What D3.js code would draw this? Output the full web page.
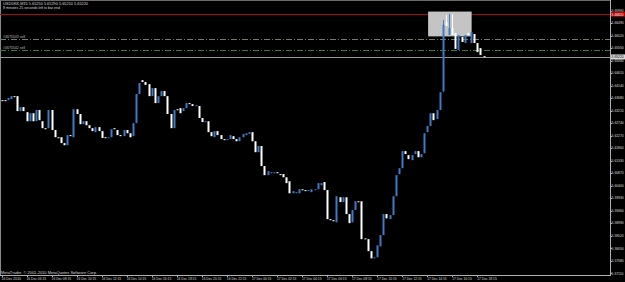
<!DOCTYPE html>
<html><head><meta charset="utf-8">
<script src="https://cdn.jsdelivr.net/npm/d3@7"></script>
<style>html,body{margin:0;padding:0;background:#000;overflow:hidden}svg{display:block}</style>
</head><body>
<svg id="c" width="625" height="282"></svg>
<script>
// ---------- data ----------
const symbolTitle = "USDDKK,M15  5.65250 5.65290 5.65210 5.65220";
const timerText = "8 minutes 25 seconds left to bar end";
const copyright = "MetaTrader, \u00A9 2001-2010 MetaQuotes Software Corp.";

const opens = [
5.6360,5.6360,5.6360,5.6364,5.6375,5.6375,5.6319,5.6334,5.6315,5.6281,
5.6311,5.6281,5.6323,5.6281,5.6255,5.6255,5.6323,5.6248,5.6221,5.6221,
5.6199,5.6191,5.6229,5.6221,5.6326,5.6308,5.6270,5.6281,5.6266,5.6255,
5.6240,5.6259,5.6244,5.6221,5.6218,5.6221,5.6255,5.6248,5.6229,5.6225,
5.6248,5.6236,5.6225,5.6274,5.6383,5.6435,5.6428,5.6420,5.6375,5.6405,
5.6349,5.6375,5.6394,5.6375,5.6308,5.6255,5.6326,5.6330,5.6319,5.6330,
5.6349,5.6345,5.6338,5.6338,5.6293,5.6278,5.6281,5.6240,5.6221,5.6244,
5.6229,5.6214,5.6210,5.6214,5.6225,5.6214,5.6206,5.6221,5.6229,5.6233,
5.6240,5.6206,5.6165,5.6188,5.6113,5.6079,5.6086,5.6086,5.6090,5.6083,
5.6083,5.6071,5.6056,5.6011,5.6011,5.6011,5.6026,5.6023,5.6019,5.6015,
5.6023,5.6026,5.6041,5.6053,5.6023,5.5914,5.5910,5.5902,5.5996,5.5978,
5.5996,5.5933,5.5902,5.5948,5.5981,5.5981,5.5842,5.5839,5.5794,5.5767,
5.5771,5.5812,5.5854,5.5933,5.5914,5.5929,5.6000,5.6083,5.6105,5.6169,
5.6154,5.6135,5.6158,5.6169,5.6146,5.6161,5.6240,5.6263,5.6311,5.6289,
5.6323,5.6394,5.6653,5.6604,5.6630,5.6612,5.6548,5.6597,5.6574,5.6612,
5.6574,5.6608,5.6574,5.6555,5.6525];

const closes = [
5.6360,5.6360,5.6368,5.6375,5.6375,5.6319,5.6334,5.6319,5.6281,5.6311,
5.6281,5.6323,5.6285,5.6255,5.6251,5.6323,5.6248,5.6221,5.6221,5.6199,
5.6191,5.6229,5.6225,5.6326,5.6308,5.6270,5.6281,5.6266,5.6255,5.6244,
5.6259,5.6244,5.6218,5.6218,5.6221,5.6251,5.6251,5.6229,5.6225,5.6248,
5.6236,5.6221,5.6274,5.6383,5.6424,5.6428,5.6417,5.6375,5.6405,5.6349,
5.6375,5.6394,5.6375,5.6308,5.6255,5.6323,5.6326,5.6311,5.6330,5.6349,
5.6345,5.6338,5.6341,5.6293,5.6278,5.6281,5.6240,5.6225,5.6244,5.6229,
5.6214,5.6210,5.6214,5.6229,5.6214,5.6206,5.6221,5.6233,5.6236,5.6240,
5.6206,5.6165,5.6188,5.6113,5.6079,5.6094,5.6090,5.6090,5.6086,5.6079,
5.6071,5.6049,5.6011,5.6019,5.6015,5.6026,5.6023,5.6019,5.6023,5.6026,
5.6026,5.6049,5.6049,5.6023,5.5914,5.5910,5.5906,5.6000,5.5978,5.5996,
5.5933,5.5899,5.5948,5.5981,5.5981,5.5839,5.5839,5.5794,5.5767,5.5771,
5.5816,5.5854,5.5933,5.5917,5.5929,5.6000,5.6079,5.6105,5.6169,5.6158,
5.6139,5.6154,5.6169,5.6146,5.6158,5.6236,5.6263,5.6311,5.6285,5.6323,
5.6390,5.6642,5.6638,5.6630,5.6604,5.6552,5.6604,5.6578,5.6604,5.6604,
5.6615,5.6574,5.6540,5.6529,5.6522];

// visible wicks (bar index, high, low)
const wickIdx  = [141, 142, 143, 144];
const wickHigh = [5.6660, 5.6679, 5.6683, 5.6683];
const wickLow  = [5.6390, 5.6638, 5.6604, 5.6604];

const timeLabels = ["16 Dec 2010","16 Dec 06:15","16 Dec 08:15","16 Dec 10:15","16 Dec 12:15",
"16 Dec 14:15","16 Dec 16:15","16 Dec 18:15","16 Dec 20:15","16 Dec 22:15","17 Dec 00:15",
"17 Dec 02:15","17 Dec 04:15","17 Dec 06:15","17 Dec 08:15","17 Dec 10:15","17 Dec 12:15",
"17 Dec 14:15","17 Dec 16:15","17 Dec 18:15"];
const barsPerLabel = 8;

const priceTicks = [5.66960,5.66490,5.66020,5.65550,5.65080,5.64610,5.64140,5.63680,5.63210,
5.62740,5.62270,5.61800,5.61330,5.60870,5.60400,5.59930,5.59460,5.58990,5.58520,5.58050,
5.57580,5.57110];

const redLevel = 5.6682;
const bidPrice = 5.6522;
const orderLevels = [5.6588, 5.6549];
const orderNames = ["#4675503 sell", "#4675542 sell"];
const boxBars = [136.3, 150.2];
const boxPrices = [5.6692, 5.6599];

// ---------- drawing ----------
const W = 625, H = 282;
const plotRight = 610, plotBottom = 275;
const svg = d3.select("#c");
svg.append("rect").attr("width", W).attr("height", H).attr("fill", "#000");

const x = d3.scaleLinear().domain([0, 154]).range([1.5, 1.5 + 154 * 3.13]);
const y = d3.scaleLinear().domain([5.57110, 5.66960]).range([273.3, 10.5]);

const font = "'Liberation Sans', Arial, sans-serif";

// frame
const g = svg.append("g");
g.append("line").attr("x1", 0.5).attr("x2", 0.5).attr("y1", 0).attr("y2", plotBottom)
  .attr("stroke", "#8a8a8a").attr("stroke-width", 1);
g.append("line").attr("x1", 0).attr("x2", plotRight).attr("y1", 0.5).attr("y2", 0.5)
  .attr("stroke", "#6a6a6a").attr("stroke-width", 1);

// red level line
g.append("line").attr("x1", 0).attr("x2", plotRight)
  .attr("y1", Math.round(y(redLevel)) + 0.5).attr("y2", Math.round(y(redLevel)) + 0.5)
  .attr("stroke", "#a01010").attr("stroke-width", 1);

// order lines
orderLevels.forEach((p, i) => {
  const yy = Math.round(y(p)) + 0.5;
  g.append("line").attr("x1", 0).attr("x2", plotRight).attr("y1", yy).attr("y2", yy)
    .attr("stroke", i === 0 ? "#6f7f6f" : "#3f7a3f").attr("stroke-width", 1)
    .attr("stroke-dasharray", "6,2,1,2");
  g.append("text").attr("x", 3).attr("y", yy - 1.2).text(orderNames[i])
    .attr("fill", "#bfbfbf").attr("font-family", font).attr("font-size", 4)
    .attr("textLength", 22).attr("lengthAdjust", "spacingAndGlyphs");
});

// bid line
g.append("line").attr("x1", 0).attr("x2", plotRight)
  .attr("y1", Math.round(y(bidPrice)) + 0.5).attr("y2", Math.round(y(bidPrice)) + 0.5)
  .attr("stroke", "#9a9a9a").attr("stroke-width", 1);

// rectangle object
g.append("rect")
  .attr("x", x(boxBars[0])).attr("width", x(boxBars[1]) - x(boxBars[0]))
  .attr("y", y(boxPrices[0])).attr("height", y(boxPrices[1]) - y(boxPrices[0]))
  .attr("fill", "#c4c4c4");

// candles
const bull = "#3f7ac4", bear = "#ffffff";
const bars = d3.range(opens.length).map(i => ({i, o: opens[i], c: closes[i]}));
const cg = svg.append("g");
wickIdx.forEach((bi, k) => {
  const up = closes[bi] >= opens[bi];
  cg.append("line").attr("x1", Math.round(x(bi)) + 0.5).attr("x2", Math.round(x(bi)) + 0.5)
    .attr("y1", y(wickHigh[k])).attr("y2", y(wickLow[k]))
    .attr("stroke", up ? bull : bear).attr("stroke-width", 1);
});
cg.selectAll("rect.c").data(bars).join("rect").attr("class", "c")
  .attr("x", d => Math.round(x(d.i)) - 0.5)
  .attr("width", 2)
  .attr("y", d => y(Math.max(d.o, d.c)))
  .attr("height", d => Math.max(1, Math.abs(y(d.o) - y(d.c))))
  .attr("fill", d => d.c > d.o ? bull : bear);

// axes lines
g.append("line").attr("x1", 0).attr("x2", plotRight).attr("y1", plotBottom + 0.5).attr("y2", plotBottom + 0.5)
  .attr("stroke", "#b0b0b0");
svg.append("line").attr("x1", plotRight + 0.5).attr("x2", plotRight + 0.5).attr("y1", 0).attr("y2", plotBottom + 1)
  .attr("stroke", "#b0b0b0");

// price axis labels
const pfs = 3.35;
const pa = svg.append("g");
priceTicks.forEach(p => {
  const yy = y(p);
  pa.append("line").attr("x1", plotRight).attr("x2", plotRight + 2).attr("y1", Math.round(yy) + 0.5).attr("y2", Math.round(yy) + 0.5)
    .attr("stroke", "#b0b0b0");
  pa.append("text").attr("x", 611.6).attr("y", yy + 1.3).text(p.toFixed(5))
    .attr("fill", "#dcdcdc").attr("font-family", font).attr("font-size", pfs);
});
// red label
const ry = y(redLevel);
pa.append("rect").attr("x", 611).attr("y", ry - 2.5).attr("width", 14).attr("height", 5).attr("fill", "#b00000");
pa.append("text").attr("x", 611.6).attr("y", ry + 1.3).text(redLevel.toFixed(5))
  .attr("fill", "#ffffff").attr("font-family", font).attr("font-size", pfs);
// bid label
const by = y(bidPrice);
pa.append("rect").attr("x", 611).attr("y", by - 2.5).attr("width", 14).attr("height", 5).attr("fill", "#d8d8d8");
pa.append("text").attr("x", 611.6).attr("y", by + 1.3).text(bidPrice.toFixed(5))
  .attr("fill", "#000").attr("font-family", font).attr("font-size", pfs);

// time axis labels
const ta = svg.append("g");
timeLabels.forEach((t, k) => {
  const xx = x(k * barsPerLabel);
  ta.append("line").attr("x1", Math.round(xx) + 0.5).attr("x2", Math.round(xx) + 0.5)
    .attr("y1", plotBottom).attr("y2", plotBottom + 2).attr("stroke", "#b0b0b0");
  ta.append("text").attr("x", xx).attr("y", 280).text(t)
    .attr("fill", "#d8d8d8").attr("font-family", font).attr("font-size", 4.2)
    .attr("textLength", 19.5).attr("lengthAdjust", "spacingAndGlyphs");
});

// header texts
svg.append("text").attr("x", 3).attr("y", 5).text(symbolTitle)
  .attr("fill", "#d8d8d8").attr("font-family", font).attr("font-size", 4)
  .attr("textLength", 85).attr("lengthAdjust", "spacingAndGlyphs");
svg.append("text").attr("x", 3).attr("y", 9).text(timerText)
  .attr("fill", "#d8d8d8").attr("font-family", font).attr("font-size", 4)
  .attr("textLength", 57).attr("lengthAdjust", "spacingAndGlyphs");
svg.append("text").attr("x", 1).attr("y", 273.5).text(copyright)
  .attr("fill", "#d8d8d8").attr("font-family", font).attr("font-size", 4)
  .attr("textLength", 96).attr("lengthAdjust", "spacingAndGlyphs");
</script>
</body></html>
